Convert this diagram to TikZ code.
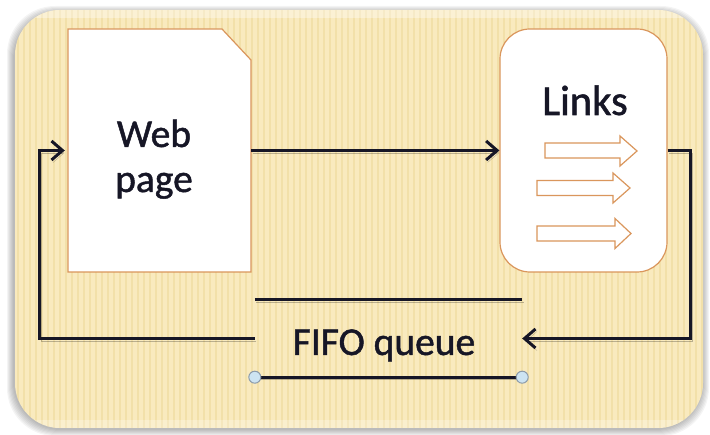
\documentclass[tikz,border=0pt]{standalone}
\usepackage{fontspec}
\setmainfont{Carlito}
\newfontfamily\labelfont{Carlito}[FakeBold=1.2]
\usetikzlibrary{arrows.meta,calc}
\definecolor{panelfill}{RGB}{249,234,190}
\definecolor{stripe}{RGB}{238,216,152}
\definecolor{boxline}{RGB}{218,150,92}
\definecolor{ink}{RGB}{22,22,38}
\definecolor{knob}{RGB}{205,228,242}
\definecolor{knobline}{RGB}{140,155,170}
\tikzset{
  conn/.style={draw=ink, line width=3pt, -{Straight Barb[length=11pt,width=19pt]},
    preaction={draw=black, draw opacity=0.25, transform canvas={shift={(1.5pt,-2.5pt)}}}},
  bar/.style={draw=ink, line width=3pt,
    preaction={draw=black, draw opacity=0.25, transform canvas={shift={(1.5pt,-2.5pt)}}}},
  boxtext/.style={font=\labelfont\fontsize{39.5}{44}\selectfont, text=ink, anchor=base, inner sep=0pt},
  blockarrow/.style={draw=boxline, line width=1.2pt, fill=white, line join=miter},
  knobdot/.style={circle, draw=knobline, fill=knob, line width=1pt, minimum size=12pt, inner sep=0pt}
}
\begin{document}
\begin{tikzpicture}[x=1pt,y=-1pt]
\useasboundingbox (0,0) rectangle (710,435);
% soft shadow round the panel
\foreach \i in {1,...,7}{
  \fill[black, opacity=0.045, rounded corners=48] (15-\i-1,10-\i+3) rectangle (703+\i-1,428+\i+1);
}
% panel
\fill[panelfill, rounded corners=45] (15,10) rectangle (703,428);
\begin{scope}
  \clip[rounded corners=45] (15,10) rectangle (703,428);
  \foreach \x in {18,24,...,702}{
    \draw[stripe, line width=2pt, opacity=0.55] (\x,10) -- (\x,428);
  }
  \fill[white, opacity=0.35] (15,10) rectangle (703,18);
  \fill[white, opacity=0.25] (15,420) rectangle (703,428);
\end{scope}

% web page sheet with cut corner
\filldraw[fill=white, draw=boxline, line width=1.2pt]
  (68,29) -- (222,29) -- (251,60) -- (251,272) -- (68,272) -- cycle;
\node[minimum width=183pt, minimum height=243pt, inner sep=0pt] (web) at (159.5,150.5) {};
\node[boxtext] (webl1) at (154,147) {Web};
\node[boxtext] (webl2) at (154,192) {page};

% links box
\node[draw=boxline, fill=white, line width=1.2pt, rounded corners=30pt,
      minimum width=167pt, minimum height=243pt, inner sep=0pt] (links) at (583.5,150.5) {};
\node[boxtext, font=\labelfont\fontsize{42.5}{47}\selectfont] (linkst) at (585,115) {Links};
\filldraw[blockarrow] (545,143) -- (620,143) -- (620,136) -- (637,151) -- (620,166) -- (620,158) -- (545,158) -- cycle;
\filldraw[blockarrow] (537,180.5) -- (613,180.5) -- (613,173) -- (630,188) -- (613,203) -- (613,195.5) -- (537,195.5) -- cycle;
\filldraw[blockarrow] (537,226) -- (615,226) -- (615,218.5) -- (631,233.5) -- (615,248.5) -- (615,241) -- (537,241) -- cycle;

% FIFO queue
\node[minimum width=267pt, minimum height=77pt, inner sep=0pt] (queue) at (388.5,338.5) {};
\node[boxtext] (queuet) at (384,355) {FIFO queue};
\draw[bar] (queue.north west) -- (queue.north east);
\draw[bar] (queue.south west) -- (queue.south east);
\node[knobdot] (knobl) at (queue.south west) {};
\node[knobdot] (knobr) at (queue.south east) {};

% connectors
\draw[conn] (web.east) -- (links.west);
\draw[conn] (links.east) -- ++(23,0) |- (queue.east);
\draw[conn, shorten >=3pt] (queue.west) -- ++(-215,0) |- (web.west);
\end{tikzpicture}
\end{document}
